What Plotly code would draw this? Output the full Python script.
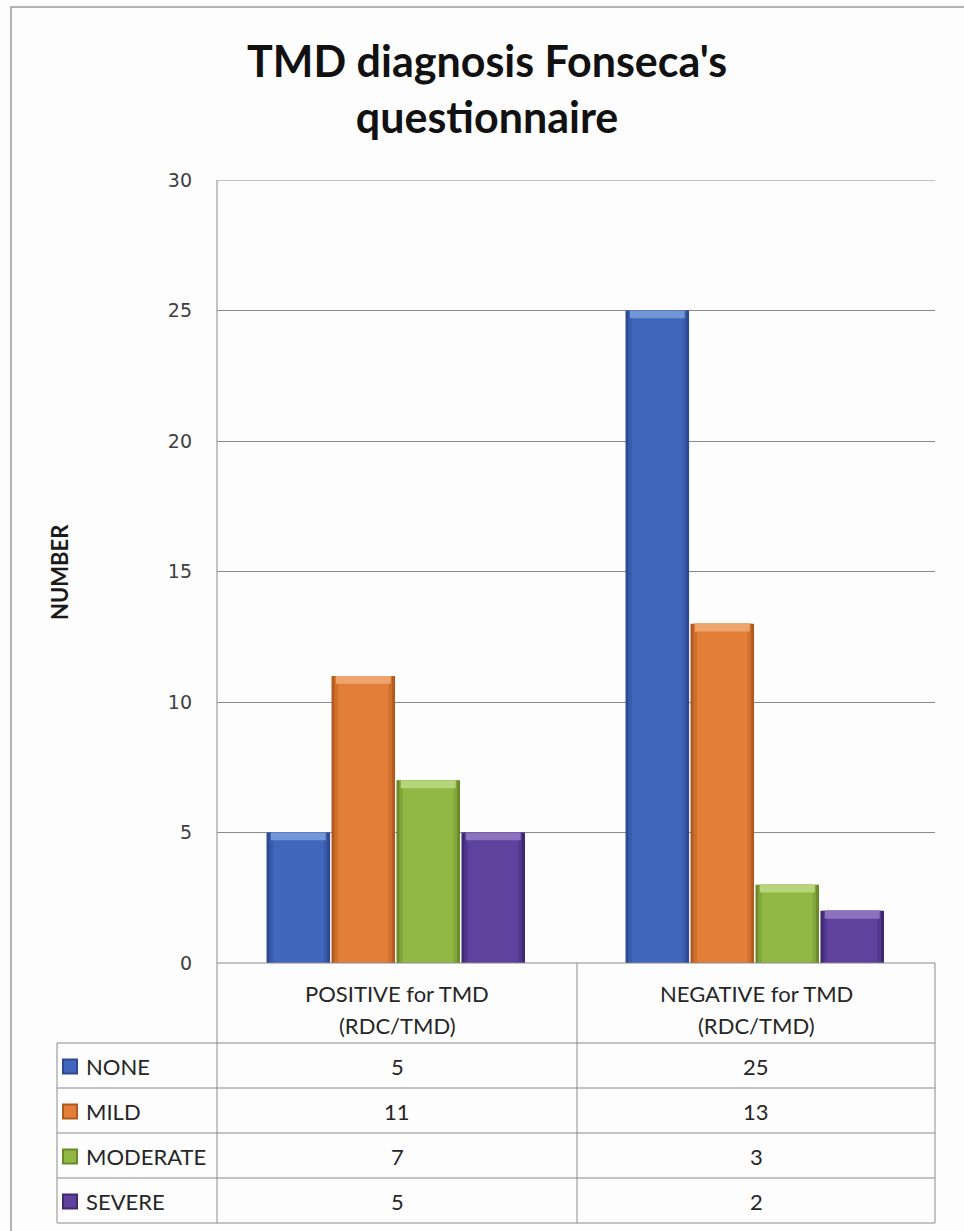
import plotly.graph_objects as go

# Chart data
categories = [("POSITIVE for TMD", "(RDC/TMD)"), ("NEGATIVE for TMD", "(RDC/TMD)")]
severity = ["NONE", "MILD", "MODERATE", "SEVERE"]
none_vals = [5, 25]
mild_vals = [11, 13]
moderate_vals = [7, 3]
severe_vals = [5, 2]
y_ticks = [0, 5, 10, 15, 20, 25, 30]

series = [none_vals, mild_vals, moderate_vals, severe_vals]
face_colors = ["#4167bd", "#e27e38", "#91b744", "#5f429d"]
mid_colors = ["#395bab", "#cf6f2c", "#82a63a", "#51378e"]
edge_colors = ["#2d4a90", "#b05a20", "#6a8a2c", "#40296f"]
cap_colors = ["#7396d6", "#efa36d", "#b6d479", "#8a72bd"]

W, H = 964, 1231


def px(x):
    return x / W


def py(y):
    return 1 - y / H


PLOT_L, PLOT_R, PLOT_T, PLOT_B = 217, 935, 180, 963
TABLE_L = 57
HEADER_B = 1043
ROW_H = 45
COL_MID = 577

fig = go.Figure()

slot = 0.181
bar_w = 0.177
cap_h = 0.3
xpos = list(range(len(categories)))
for i, (name, vals) in enumerate(zip(severity, series)):
    off = -0.362 + i * slot
    # layered fills give the bevelled sides
    fig.add_trace(go.Bar(
        x=xpos, y=vals, name=name, width=bar_w, offset=off,
        marker=dict(color=edge_colors[i], line=dict(width=0)),
        showlegend=False, hoverinfo="y",
    ))
    fig.add_trace(go.Bar(
        x=xpos, y=vals, name=name, width=bar_w - 0.016, offset=off + 0.008,
        marker=dict(color=mid_colors[i], line=dict(width=0)),
        showlegend=False, hoverinfo="skip",
    ))
    fig.add_trace(go.Bar(
        x=xpos, y=vals, name=name, width=bar_w - 0.036, offset=off + 0.018,
        marker=dict(color=face_colors[i], line=dict(width=0)),
        showlegend=False, hoverinfo="skip",
    ))
    # light top bevel
    fig.add_trace(go.Bar(
        x=xpos, y=[cap_h] * len(vals), base=[v - cap_h for v in vals], name=name,
        width=bar_w - 0.024, offset=off + 0.012,
        marker=dict(color=cap_colors[i], line=dict(width=0)),
        showlegend=False, hoverinfo="skip",
    ))

shapes = []
annotations = []
grid = "#8a8a8a"


def hline(x0, x1, y, color=grid, width=1):
    shapes.append(dict(type="line", xref="paper", yref="paper",
                       x0=px(x0), x1=px(x1), y0=py(y), y1=py(y),
                       line=dict(color=color, width=width)))


def vline(x, y0, y1, color=grid, width=1):
    shapes.append(dict(type="line", xref="paper", yref="paper",
                       x0=px(x), x1=px(x), y0=py(y0), y1=py(y1),
                       line=dict(color=color, width=width)))


# outer chart frame
shapes.append(dict(type="rect", xref="paper", yref="paper",
                   x0=px(11), x1=px(990), y0=py(1260), y1=py(7),
                   line=dict(color="#9a9a9a", width=1.5), layer="below"))

# top gridline of the value axis
shapes.append(dict(type="line", xref="x domain", yref="y", x0=0, x1=1,
                   y0=y_ticks[-1], y1=y_ticks[-1], line=dict(color=grid, width=1),
                   layer="below"))

# value axis line
vline(PLOT_L, PLOT_T, PLOT_B)

# data table grid
rows_bottom = HEADER_B + ROW_H * len(severity)
vline(PLOT_L, PLOT_B, rows_bottom)
vline(COL_MID, PLOT_B, rows_bottom)
vline(PLOT_R, PLOT_B, rows_bottom)
vline(TABLE_L, HEADER_B, rows_bottom)
hline(PLOT_L, PLOT_R, PLOT_B)
for r in range(len(severity) + 1):
    hline(TABLE_L, PLOT_R, HEADER_B + r * ROW_H)

txt_font = dict(family="Lato, 'Open Sans', sans-serif", size=22, color="#262626")
col_centers = [(PLOT_L + COL_MID) / 2, (COL_MID + PLOT_R) / 2]

for c, (line1, line2) in enumerate(categories):
    for text, yy in ((line1, 993), (line2, 1025)):
        annotations.append(dict(xref="paper", yref="paper", x=px(col_centers[c]),
                                y=py(yy), text=text, showarrow=False,
                                font=txt_font, xanchor="center", yanchor="middle"))

for r, (name, vals) in enumerate(zip(severity, series)):
    yc = HEADER_B + r * ROW_H + ROW_H / 2 + 1
    # legend key
    shapes.append(dict(type="rect", xref="paper", yref="paper",
                       x0=px(63), x1=px(77), y0=py(yc + 7), y1=py(yc - 7),
                       fillcolor=face_colors[r], line=dict(color=edge_colors[r], width=2)))
    annotations.append(dict(xref="paper", yref="paper", x=px(84), y=py(yc),
                            text=name, showarrow=False, font=txt_font,
                            xanchor="left", yanchor="middle"))
    for c in range(len(categories)):
        annotations.append(dict(xref="paper", yref="paper", x=px(col_centers[c]),
                                y=py(yc), text=str(vals[c]), showarrow=False,
                                font=txt_font, xanchor="center", yanchor="middle"))

# y-axis title
annotations.append(dict(xref="paper", yref="paper", x=px(59), y=py(572),
                        text="<b>NUMBER</b>", showarrow=False, textangle=-90,
                        font=dict(family="Lato, 'Open Sans', sans-serif", size=22, color="#1a1a1a"),
                        xanchor="center", yanchor="middle"))

# title
annotations.append(dict(xref="paper", yref="paper", x=px(487), y=py(89),
                        text="<b>TMD diagnosis Fonseca's<br>questionnaire</b>", showarrow=False,
                        font=dict(family="Lato, 'Open Sans', sans-serif", size=43, color="#111111"),
                        xanchor="center", yanchor="middle", align="center"))

fig.update_layout(
    width=W, height=H,
    margin=dict(l=0, r=0, t=0, b=0, pad=0, autoexpand=False),
    paper_bgcolor="#fdfdfd", plot_bgcolor="rgba(0,0,0,0)",
    barmode="overlay",
    shapes=shapes, annotations=annotations,
    xaxis=dict(domain=[px(PLOT_L), px(PLOT_R)], range=[-0.5, 1.5],
               showticklabels=False, showgrid=False, zeroline=False, fixedrange=True),
    yaxis=dict(domain=[py(PLOT_B), py(PLOT_T)], range=[0, 30],
               tickvals=y_ticks, ticktext=[str(v) for v in y_ticks],
               showgrid=True, gridcolor=grid, gridwidth=1, zeroline=False,
               ticklabelstandoff=24, automargin=False,
               tickfont=dict(family="DejaVu Sans, Verdana, sans-serif", size=19, color="#404040")),
    showlegend=False,
)

fig.write_html("out.html")
